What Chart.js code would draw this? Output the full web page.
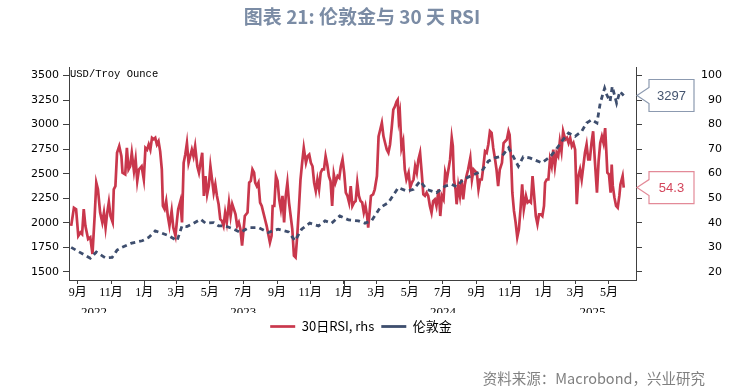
<!DOCTYPE html>
<html>
<head>
<meta charset="utf-8">
<script src="https://cdn.jsdelivr.net/npm/chart.js@4.4.1/dist/chart.umd.min.js"></script>
<style>
html,body{margin:0;padding:0;background:#fff;}
#wrap{position:relative;width:740px;height:392px;overflow:hidden;background:#fff;}
#title{position:absolute;left:0;top:3px;width:724px;text-align:center;font-family:"Noto Sans CJK SC";font-weight:bold;font-size:19px;line-height:26px;color:#7b8ca5;}
#unit{position:absolute;left:70px;top:68px;font-family:"Liberation Mono";font-size:10.5px;line-height:13px;color:#000;}
#source{position:absolute;right:35px;top:369px;font-family:"Noto Sans CJK SC";font-size:14.5px;line-height:18px;color:#808080;}
canvas{position:absolute;left:0;top:0;}
</style>
</head>
<body>
<div id="wrap">
<canvas id="c" width="740" height="392"></canvas>
<div id="title">图表 21: 伦敦金与 30 天 RSI</div>
<div id="unit">USD/Troy Ounce</div>
<div id="source">资料来源：Macrobond，兴业研究</div>
</div>
<script>
// days counted from 2022-09-01
const baseDate = '2022-09-01';
const monthTickDays = [0,61,122,181,242,303,365,426,487,547,608,669,731,792,853,912,973];
const monthTickLabels = ['9月','11月','1月','3月','5月','7月','9月','11月','1月','3月','5月','7月','9月','11月','1月','3月','5月'];
const yearDays = [30,303,669,943];
const yearLabels = ['2022','2023','2024','2025'];
const goldTicks = [1500,1750,2000,2250,2500,2750,3000,3250,3500];
const rsiTicks = [20,30,40,50,60,70,80,90,100];

const rsiLabel = '30日RSI, rhs';
const goldLabel = '伦敦金';

const rsiDays = [
-12,-7,-3,1,5,8,11,14,19,23,
27,31,34,37,41,45,48,51,54,57,
60,64,66,69,72,76,80,82,87,90,
93,96,99,103,106,109,112,117,121,124,
127,130,133,136,139,142,145,148,151,154,
156,159,162,165,168,172,175,179,182,184,
188,191,194,197,200,203,206,209,212,215,
219,222,225,228,231,234,237,240,243,246,
249,252,255,258,261,264,267,270,273,277,
280,283,286,289,292,295,298,301,
306,311,314,317,320,323,325,328,331,334,
337,340,343,346,349,352,355,357,360,363,
366,369,372,375,378,381,384,387,390,393,
396,399,402,405,408,411,414,418,421,424,
427,430,433,436,439,442,445,448,451,454,
457,460,463,466,469,472,476,479,482,485,
488,491,494,497,500,503,506,509,512,515,
518,521,524,527,530,532,535,537,541,544,
548,551,554,557,560,563,566,569,572,575,
578,581,584,586,588,590,593,596,599,602,
606,609,612,615,618,621,624,627,630,633,
636,639,642,645,648,651,
654,657,661,664,667,670,673,676,679,682,
685,687,689,692,694,697,700,703,706,709,
712,715,719,722,725,728,731,734,737,740,
743,746,749,752,755,758,761,764,767,770,
773,777,780,783,786,789,791,794,796,799,
802,805,808,811,814,817,821,824,827,830,
833,836,839,842,845,848,851,854,856,859,
862,865,868,871,874,877,880,883,886,889,
893,896,899,902,905,908,911,914,917,920,
923,926,929,932,935,938,941,944,947,951,
954,957,960,963,966,968,970,973,976,978,
980,983,986,989,992,994,998,1000
];
const rsiValues = [
38.7,46.1,45.5,34.6,36,35.3,45.5,38.7,33.3,34,
27.2,42.7,56.3,53.6,44.1,40.1,44.1,38,44.1,48.4,
42.7,40.1,53.6,54.9,68.5,71.2,67.1,60.4,59.7,70.5,
61.7,63,68.5,61,65.8,57,61.7,63,57.6,70.5,
69.8,71.9,69.8,74.6,74,74.6,71.9,73.2,69.1,61.7,
46.8,45.5,48.8,42.7,38.7,44.8,38,34.6,41.4,45.5,
48.8,40.1,64.4,67.8,72.5,64.4,67.1,69.8,67.1,71.2,
63,60.4,64.4,68.5,50.9,59,51.5,54.9,63,57.6,
52.2,55.6,50.9,47.5,41.4,40.7,38.7,44.1,40.1,48.2,
42.7,47.5,45.5,43.4,38.7,40.1,37.3,30.6,
42.7,44.1,56.3,57,61.7,60.4,56.3,54.9,56.3,48.2,
46.8,44.1,41.4,38.7,35.3,31.9,34.6,46.8,46.8,59,
57,49.5,45.5,50.9,40.1,50.9,56.3,48.2,42.7,37.3,
26.5,25.8,34.6,45.5,57.6,64.4,70.5,64.4,67.1,67.8,
64.4,63,56.3,52.9,57.6,53.6,60.4,61.7,61.7,67.1,
63.7,59,57,46.8,59.7,56.3,59,58.3,63,65.8,
60.4,52.2,50.9,48.2,54.9,46.8,48.2,48.8,56.3,50.9,
48.8,48.2,44.1,46.8,42.7,38,45.5,50.9,51.5,53.6,
59,75.2,77.9,80.7,75.2,72.5,69.8,68.5,71.9,78.6,
86.1,87.4,89.4,90.1,82,84.7,70.5,73.2,61.7,57.6,
60.4,54.3,56.3,57.6,63,60.4,65.8,68.5,60.4,51.5,
50.9,52.2,50.9,46.8,44.1,48.8,
49.5,46.8,53.6,42.7,50.9,49.5,60.4,57.6,61.7,65.8,
74.6,71.2,57.6,53.6,47.5,55,50.9,57.6,49.5,55.6,
59,61.7,66.4,57.6,61.7,61,60.4,53.6,57.6,57.6,
63,69.1,68.5,71.9,77.3,76.6,70.5,66.4,61.7,54.9,
61.7,64.4,72.5,73.2,73.9,77.3,75.9,64.4,52.2,44.8,
40.1,34,37.3,45.5,55.6,45.5,50.9,48.2,48.8,48.2,
59,50.9,42.7,39.4,43.4,43.4,42.7,46.8,56.3,57.6,
57.6,65.8,63,69.8,63,68.5,67.1,73.2,69.1,77.3,
73.9,74.6,72.5,74.6,71.2,72.5,69.8,47.5,59,61.7,
57.6,63,68.5,71.9,65.8,65.8,72.5,77.3,65.8,52.2,
65.1,72.5,75.2,72.5,78.6,69.8,60.4,59.7,52.2,63.7,
55,50.2,46.8,46.1,50.9,55.6,59,54.3
];

const goldDays = [
-12,23,34,51,63,72,81,99,118,130,
142,154,167,182,191,200,209,225,234,249,
258,270,283,298,313,331,349,367,386,398,
410,425,441,453,465,480,496,514,526,538,
554,569,587,603,615,627,639,657,673,685,
694,706,722,740,752,764,777,789,798,807,
816,828,838,850,865,877,889,899,911,923,
932,941,951,957,965,969,975,979,987,993,
1000
];
const goldValues = [
1748,1636,1700,1640,1645,1720,1748,1792,1815,1849,
1916,1893,1866,1815,1967,1960,1984,2035,1995,2001,
1967,1967,1940,1900,1950,1950,1900,1933,1906,1815,
1933,1995,1967,2018,1995,2069,2028,2018,1995,2018,
2154,2205,2357,2322,2340,2424,2340,2306,2373,2390,
2367,2441,2482,2525,2627,2661,2678,2763,2671,2576,
2671,2661,2637,2611,2671,2753,2847,2915,2881,2931,
3017,3050,3017,3220,3372,3304,3236,3389,3220,3338,
3297
];

const toPts = (xs, ys) => xs.map((x, i) => ({x: x, y: ys[i]}));

const axisColor = '#404040';
const tickFont = {family: 'Tahoma, "DejaVu Sans", sans-serif', size: 11};
const xFont = {family: '"Liberation Serif", "Noto Sans CJK SC", serif', size: 12};
const yearFont = {family: '"Liberation Serif", serif', size: 13};

const calloutPlugin = {
  id: 'callouts',
  afterDraw(chart, args, opts) {
    const ctx = chart.ctx;
    const area = chart.chartArea;
    (opts.items || []).forEach(item => {
      const ds = chart.data.datasets[item.datasetIndex];
      const last = ds.data[ds.data.length - 1].y;
      const scale = chart.scales[ds.yAxisID];
      const y = scale.getPixelForValue(last);
      const tipX = area.right + 1;
      const bl = tipX + 12, br = bl + 45, h = 32;
      ctx.save();
      ctx.beginPath();
      ctx.moveTo(bl, y - h / 2);
      ctx.lineTo(br, y - h / 2);
      ctx.lineTo(br, y + h / 2);
      ctx.lineTo(bl, y + h / 2);
      ctx.lineTo(bl, y + 8);
      ctx.lineTo(tipX, y);
      ctx.lineTo(bl, y - 8);
      ctx.closePath();
      ctx.fillStyle = '#ffffff';
      ctx.fill();
      ctx.lineWidth = 1.2;
      ctx.strokeStyle = item.border;
      ctx.stroke();
      ctx.fillStyle = item.text;
      ctx.font = '13px "Liberation Sans", Arial, sans-serif';
      ctx.textAlign = 'center';
      ctx.textBaseline = 'middle';
      ctx.fillText(last.toFixed(item.decimals), (bl + br) / 2, y + 1);
      ctx.restore();
    });
  }
};

// extra-long tick marks at each January (year boundary)
const yearTickPlugin = {
  id: 'yearTicks',
  afterDraw(chart, args, opts) {
    const ctx = chart.ctx;
    const sx = chart.scales.x;
    ctx.save();
    ctx.strokeStyle = axisColor;
    ctx.lineWidth = 1;
    (opts.days || []).forEach(d => {
      const px = Math.round(sx.getPixelForValue(d)) + 0.5;
      ctx.beginPath();
      ctx.moveTo(px, sx.top);
      ctx.lineTo(px, sx.top + 9);
      ctx.stroke();
    });
    ctx.restore();
  }
};

new Chart(document.getElementById('c'), {
  type: 'line',
  data: {
    datasets: [
      {
        label: rsiLabel,
        data: toPts(rsiDays, rsiValues),
        yAxisID: 'y1',
        borderColor: '#c9374c',
        backgroundColor: '#c9374c',
        borderWidth: 2.7,
        pointRadius: 0,
        tension: 0,
        order: 2
      },
      {
        label: goldLabel,
        data: toPts(goldDays, goldValues),
        yAxisID: 'y',
        borderColor: '#3e4e6e',
        backgroundColor: '#3e4e6e',
        borderWidth: 2.8,
        borderDash: [5, 4],
        pointRadius: 0,
        tension: 0,
        order: 1
      }
    ]
  },
  options: {
    responsive: false,
    animation: false,
    devicePixelRatio: 1,
    layout: {padding: {top: 67, bottom: 49, left: 0, right: 18}},
    plugins: {
      title: {display: false},
      tooltip: {enabled: false},
      legend: {
        position: 'bottom',
        align: 'center',
        labels: {
          usePointStyle: true,
          pointStyleWidth: 25,
          pointStyle: 'line',
          boxHeight: 13,
          padding: 7,
          color: '#000',
          font: {family: '"Noto Sans CJK SC", sans-serif', size: 13},
          sort: (a, b) => a.datasetIndex - b.datasetIndex
        }
      },
      callouts: {
        items: [
          {datasetIndex: 1, border: '#8c9ab0', text: '#44546f', decimals: 0},
          {datasetIndex: 0, border: '#e38a98', text: '#d3455b', decimals: 1}
        ]
      },
      yearTicks: {days: [122, 487, 853]}
    },
    scales: {
      x: {
        type: 'linear',
        position: 'bottom',
        min: -16,
        max: 1022.5,
        afterBuildTicks: s => { s.ticks = monthTickDays.map(v => ({value: v})); },
        afterFit: s => { s.height = 24; },
        ticks: {
          autoSkip: false, maxRotation: 0, padding: 2, color: '#000', font: xFont,
          callback: (v, i) => monthTickLabels[i]
        },
        grid: {drawOnChartArea: false, tickLength: 4, color: axisColor},
        border: {color: axisColor, width: 1}
      },
      x2: {
        type: 'linear',
        position: 'bottom',
        min: -16,
        max: 1022.5,
        afterBuildTicks: s => { s.ticks = yearDays.map(v => ({value: v})); },
        afterFit: s => { s.height = 9; },
        ticks: {
          autoSkip: false, maxRotation: 0, padding: 1, color: '#000', font: yearFont,
          callback: (v, i) => yearLabels[i]
        },
        grid: {display: false, drawTicks: false},
        border: {display: false}
      },
      y: {
        position: 'left',
        min: 1415,
        max: 3588,
        afterBuildTicks: s => { s.ticks = goldTicks.map(v => ({value: v})); },
        afterFit: s => { s.width = 69; },
        ticks: {padding: 4, color: '#000', font: tickFont, callback: v => String(v)},
        grid: {drawOnChartArea: false, tickLength: 6, color: axisColor},
        border: {color: axisColor, width: 1}
      },
      y1: {
        position: 'right',
        min: 16.6,
        max: 103.5,
        afterBuildTicks: s => { s.ticks = rsiTicks.map(v => ({value: v})); },
        afterFit: s => { s.width = 86; },
        ticks: {padding: 7, crossAlign: 'far', color: '#000', font: tickFont, callback: v => String(v)},
        grid: {drawOnChartArea: false, tickLength: 6, color: axisColor},
        border: {color: axisColor, width: 1}
      }
    }
  },
  plugins: [calloutPlugin, yearTickPlugin]
});
</script>
</body>
</html>
